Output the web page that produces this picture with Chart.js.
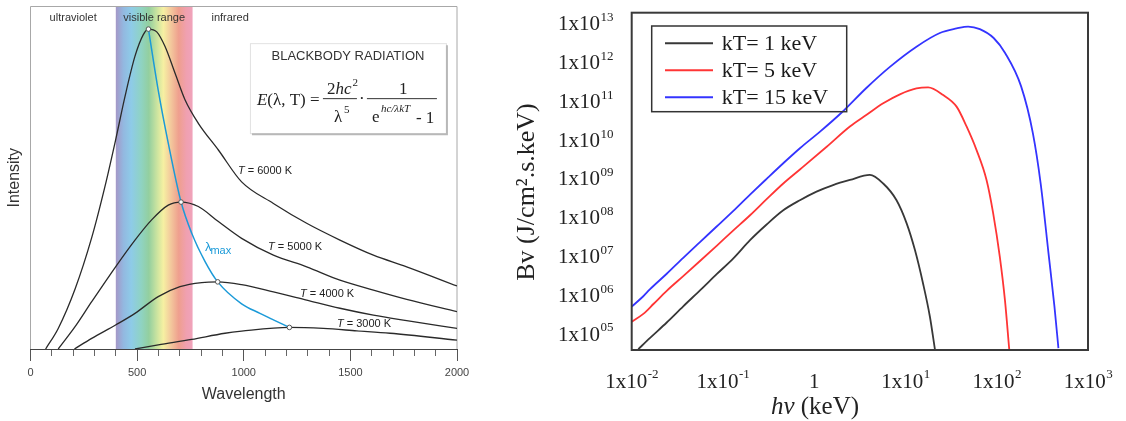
<!DOCTYPE html>
<html>
<head>
<meta charset="utf-8">
<script src="https://cdn.jsdelivr.net/npm/chart.js@4.4.0/dist/chart.umd.min.js"></script>
<style>
  body { margin: 0; background: #fff; width: 1126px; height: 421px; overflow: hidden; position: relative; }
  #planck { position: absolute; left: 0; top: 0; }
  #bv { position: absolute; left: 480px; top: 0; }
</style>
</head>
<body>
<canvas id="planck" width="480" height="421"></canvas>
<canvas id="bv" width="646" height="421"></canvas>
<script>
// ---- left panel : blackbody curves (wavelength, arbitrary intensity) ----
const temps = [6000, 5000, 4000, 3000];

const lam6000 = [71, 130, 209, 287, 349, 399, 443, 490, 529, 553, 592, 631, 678, 725, 787, 881, 990, 1139, 1295, 1451, 1608, 1764, 2000];
const int6000 = [0, 6.0, 17.5, 32.5, 47.4, 61.0, 73.7, 85.5, 91.8, 93.4, 92.6, 88.3, 80.5, 72.7, 65.9, 58.1, 48.8, 42.5, 36.7, 31.8, 27.4, 24.0, 18.4];

const lam5000 = [130, 209, 287, 399, 490, 568, 646, 706, 787, 881, 990, 1139, 1295, 1451, 1608, 1764, 2000];
const int5000 = [0, 6.5, 13.8, 24.0, 31.8, 37.7, 42.0, 42.9, 41.6, 37.2, 32.3, 27.4, 24.0, 20.1, 17.2, 14.5, 10.9];

const lam4000 = [206, 287, 399, 490, 599, 701, 803, 878, 990, 1139, 1295, 1451, 1608, 1764, 2000];
const int4000 = [0, 3.1, 7.0, 10.4, 15.3, 18.2, 19.4, 19.6, 18.8, 16.7, 14.3, 11.9, 9.9, 8.3, 6.0];

const lam3000 = [490, 599, 756, 912, 990, 1214, 1373, 1530, 1686, 2000];
const int3000 = [0, 1.2, 2.8, 4.6, 5.2, 6.3, 6.0, 5.3, 4.6, 2.6];

const lamMax = [553, 599, 646, 706, 756, 818, 878, 990, 1076, 1139, 1214];
const intMax = [93.4, 75.5, 60.1, 42.9, 33.8, 25.6, 19.6, 13.2, 10.4, 8.5, 6.3];

const peakLam = [553, 706, 878, 1214];
const peakInt = [93.4, 42.9, 19.6, 6.3];

const visibleBand = [400, 760];

// ---- right panel : Bv spectra, log-log ----
const kT = [1, 5, 15];

const e1 = [0.0118, 0.0158, 0.0242, 0.0367, 0.056, 0.0853, 0.130, 0.198, 0.301, 0.458, 0.697, 1.06, 1.61, 2.46, 4.07, 5.70, 7.98, 10.3, 12.7, 15.6, 18.5, 21.0];
const bv1 = [4.3e4, 8.3e4, 2.1e5, 5.5e5, 1.41e6, 3.7e6, 9.5e6, 2.8e7, 7.1e7, 1.65e8, 3.0e8, 5.0e8, 7.4e8, 1.0e9, 1.35e9, 8.1e8, 3.0e8, 7.6e7, 1.55e7, 2.1e6, 3.0e5, 4.3e4];

const e5 = [0.01, 0.0134, 0.0173, 0.0242, 0.0367, 0.056, 0.0853, 0.130, 0.198, 0.301, 0.458, 0.697, 1.37, 2.46, 3.75, 5.70, 8.69, 13.2, 17.7, 25.9, 36.3, 46.7, 60.1, 77.3, 91.4, 108, 123, 137];
const bv5 = [2.2e5, 3.5e5, 6.3e5, 1.38e6, 3.3e6, 8.1e6, 2.0e7, 5.0e7, 1.23e8, 3.2e8, 8.1e8, 1.86e9, 7.2e9, 2.4e10, 4.8e10, 9.5e10, 1.62e11, 2.3e11, 2.45e11, 1.55e11, 7.8e10, 2.4e10, 5.9e9, 1.0e9, 1.38e8, 1.05e7, 7.9e5, 4.3e4];

const e15 = [0.01, 0.0134, 0.0158, 0.0242, 0.0367, 0.056, 0.0853, 0.130, 0.198, 0.301, 0.458, 0.697, 1.15, 2.0, 3.75, 6.75, 13.2, 23.8, 36.3, 48.6, 65.3, 92.5, 124, 185, 249, 303, 369, 429, 474];
const bv15 = [5.4e5, 1.0e6, 1.5e6, 3.8e6, 9.8e6, 2.5e7, 6.3e7, 1.6e8, 4.2e8, 1.07e9, 2.7e9, 6.6e9, 1.74e10, 5.5e10, 2.4e11, 8.3e11, 2.75e12, 6.2e12, 8.1e12, 9.1e12, 7.8e12, 4.6e12, 1.86e12, 2.6e11, 1.6e10, 8.1e8, 1.3e7, 5.4e5, 4.6e4];

const bvTicks = [1e5, 1e6, 1e7, 1e8, 1e9, 1e10, 1e11, 1e12, 1e13];
const bvTickExp = ['05', '06', '07', '08', '09', '10', '11', '12', '13'];
const energyTicks = [0.01, 0.1, 1, 10, 100, 1000];
const energyTickBase = ['1x10', '1x10', '1', '1x10', '1x10', '1x10'];
const energyTickExp = ['-2', '-1', '', '1', '2', '3'];

const sans = "'Liberation Sans', Arial, sans-serif";
const serif = "'Liberation Serif', 'Times New Roman', serif";

const pts = (xs, ys) => xs.map((v, i) => ({x: v, y: ys[i]}));

const noPad = (s) => { s.paddingLeft = 0; s.paddingRight = 0; s.paddingTop = 0; s.paddingBottom = 0; };

// spectrum colours of the visible band
const bandStops = [
  [0, '#a497c7'], [0.1, '#93b8e0'], [0.2, '#8ecbe8'], [0.33, '#8fd3c3'], [0.43, '#93cf9f'],
  [0.55, '#d2e6a0'], [0.62, '#f6f0a2'], [0.72, '#f3c79c'], [0.82, '#ef9f8e'], [0.92, '#f0a0b0'], [1, '#f0a3bb']
];

const planckDecor = {
  id: 'planckDecor',
  beforeDraw(chart) {
    const {ctx, chartArea: a, scales: {x}} = chart;
    const x0 = x.getPixelForValue(visibleBand[0]);
    const x1 = x.getPixelForValue(visibleBand[1]);
    const g = ctx.createLinearGradient(x0, 0, x1, 0);
    bandStops.forEach(s => g.addColorStop(s[0], s[1]));
    ctx.save();
    ctx.fillStyle = g;
    ctx.fillRect(x0, a.top, x1 - x0, a.bottom - a.top);
    ctx.strokeStyle = '#a8a8a8';
    ctx.lineWidth = 1;
    ctx.beginPath();
    ctx.moveTo(a.left, a.bottom);
    ctx.lineTo(a.left, a.top);
    ctx.lineTo(a.right, a.top);
    ctx.lineTo(a.right, a.bottom);
    ctx.stroke();
    ctx.restore();
  },
  afterDatasetsDraw(chart) {
    const {ctx, scales: {x, y}} = chart;
    ctx.save();
    ctx.textBaseline = 'middle';
    ctx.fillStyle = '#333';

    // region names along the top
    ctx.font = '11px ' + sans;
    ctx.textAlign = 'center';
    ctx.fillText('ultraviolet', x.getPixelForValue(200), y.getPixelForValue(96.6));
    ctx.fillText('visible range', x.getPixelForValue(580), y.getPixelForValue(96.6));
    ctx.fillText('infrared', x.getPixelForValue(936), y.getPixelForValue(96.6));

    // temperature labels
    const at = [[973, 52.0], [1114, 29.8], [1264, 16.1], [1437, 7.3]];
    ctx.textAlign = 'left';
    temps.forEach((t, i) => {
      const px = x.getPixelForValue(at[i][0]), py = y.getPixelForValue(at[i][1]);
      ctx.font = 'italic 11px ' + sans;
      ctx.fillStyle = '#222';
      ctx.fillText('T', px, py);
      const w = ctx.measureText('T').width;
      ctx.font = '11px ' + sans;
      ctx.fillText(' = ' + t + ' K', px + w, py);
    });

    // lambda max label
    const lx = x.getPixelForValue(818), ly = y.getPixelForValue(29.5);
    ctx.fillStyle = '#1b9ad8';
    ctx.font = '13px ' + sans;
    ctx.fillText('λ', lx, ly - 1);
    const lw = ctx.measureText('λ').width;
    ctx.font = '11px ' + sans;
    ctx.fillText('max', lx + lw - 1, ly + 3);

    // formula box
    const bx = x.getPixelForValue(1029), by = y.getPixelForValue(89.3);
    const bw = 196, bh = 90;
    ctx.fillStyle = '#fff';
    ctx.fillRect(bx, by, bw, bh);
    ctx.strokeStyle = '#e2e2e2';
    ctx.lineWidth = 1;
    ctx.strokeRect(bx + 0.5, by + 0.5, bw, bh);
    ctx.strokeStyle = '#b8b8b8';
    ctx.lineWidth = 2;
    ctx.beginPath();
    ctx.moveTo(bx + bw + 1, by + 2);
    ctx.lineTo(bx + bw + 1, by + bh + 1);
    ctx.lineTo(bx + 2, by + bh + 1);
    ctx.stroke();

    ctx.fillStyle = '#333';
    ctx.font = '13px ' + sans;
    ctx.textAlign = 'center';
    ctx.fillText('BLACKBODY RADIATION', bx + 98, by + 13);

    ctx.fillStyle = '#222';
    ctx.textBaseline = 'alphabetic';
    ctx.textAlign = 'left';
    let cx = bx + 7;
    const base = by + 62;
    ctx.font = 'italic 17px ' + serif;
    ctx.fillText('E', cx, base);
    cx += ctx.measureText('E').width;
    ctx.font = '17px ' + serif;
    ctx.fillText('(λ, T) =', cx, base);

    ctx.strokeStyle = '#333';
    ctx.lineWidth = 1;
    ctx.beginPath();
    ctx.moveTo(bx + 73, by + 55.5); ctx.lineTo(bx + 107, by + 55.5);
    ctx.moveTo(bx + 117, by + 55.5); ctx.lineTo(bx + 187, by + 55.5);
    ctx.stroke();

    // 2hc^2
    ctx.font = '17px ' + serif;
    ctx.fillText('2', bx + 77, by + 51);
    let nx = bx + 77 + ctx.measureText('2').width;
    ctx.font = 'italic 17px ' + serif;
    ctx.fillText('hc', nx, by + 51);
    nx += ctx.measureText('hc').width;
    ctx.font = '11px ' + serif;
    ctx.fillText('2', nx + 1, by + 43);
    // lambda^5
    ctx.font = '17px ' + serif;
    ctx.fillText('λ', bx + 84, by + 79);
    ctx.font = '11px ' + serif;
    ctx.fillText('5', bx + 94, by + 70);
    // dot
    ctx.font = '17px ' + serif;
    ctx.fillText('·', bx + 109, by + 61);
    // 1 / (e^{hc/λkT} - 1)
    ctx.fillText('1', bx + 149, by + 51);
    ctx.fillText('e', bx + 122, by + 79);
    ctx.font = 'italic 11px ' + serif;
    ctx.fillText('hc/λkT', bx + 131, by + 69);
    ctx.font = '17px ' + serif;
    ctx.fillText('- 1', bx + 166, by + 80);
    ctx.restore();
  }
};

const blackLine = {borderColor: '#2a2a2a', borderWidth: 1.3, pointRadius: 0, cubicInterpolationMode: 'monotone', order: 2};

new Chart(document.getElementById('planck'), {
  type: 'line',
  data: {
    datasets: [
      {...blackLine, data: pts(lam6000, int6000)},
      {...blackLine, data: pts(lam5000, int5000)},
      {...blackLine, data: pts(lam4000, int4000)},
      {...blackLine, data: pts(lam3000, int3000)},
      {data: pts(lamMax, intMax), borderColor: '#1b9ad8', borderWidth: 1.5, pointRadius: 0, cubicInterpolationMode: 'monotone', order: 1},
      {data: pts(peakLam, peakInt), showLine: false, pointRadius: 2.3, pointBackgroundColor: '#fff', pointBorderColor: '#555', pointBorderWidth: 1, order: 0}
    ]
  },
  options: {
    responsive: false,
    animation: false,
    layout: {padding: {left: 0, top: 6.5, right: 23, bottom: 0}},
    plugins: {legend: {display: false}, tooltip: {enabled: false}},
    scales: {
      xMinor: {
        type: 'linear', position: 'bottom', min: 0, max: 2000,
        ticks: {display: false, stepSize: 100},
        grid: {drawOnChartArea: false, tickLength: 7, tickColor: '#666'},
        border: {display: false},
        afterFit: (s) => { s.height = 0; noPad(s); }
      },
      x: {
        type: 'linear', position: 'bottom', min: 0, max: 2000,
        ticks: {stepSize: 500, padding: 5.4, color: '#444', font: {family: sans, size: 11}, maxRotation: 0,
                callback: (v) => String(v)},
        grid: {drawOnChartArea: false, tickLength: 12, tickColor: '#555'},
        border: {color: '#444', width: 1},
        title: {display: true, text: 'Wavelength', color: '#333', font: {family: sans, size: 16}, padding: {top: 0, bottom: 16.4}},
        afterFit: (s) => { s.height = 72; noPad(s); }
      },
      y: {
        type: 'linear', min: 0, max: 100,
        ticks: {display: false},
        grid: {display: false},
        border: {display: false},
        title: {display: true, text: 'Intensity', color: '#333', font: {family: sans, size: 16}, padding: {top: 5.4, bottom: 0}},
        afterFit: (s) => { s.width = 30.5; noPad(s); }
      }
    }
  },
  plugins: [planckDecor]
});

// ---- right panel ----
const bvColors = ['#383838', '#ff3535', '#3434ff'];

// "1x10" followed by a smaller raised exponent
function drawPower(ctx, base, exp, x, y, align) {
  ctx.font = '21px ' + serif;
  const wb = ctx.measureText(base).width;
  ctx.font = '13px ' + serif;
  const we = exp ? ctx.measureText(exp).width : 0;
  const left = align === 'right' ? x - wb - we : x - (wb + we) / 2;
  ctx.font = '21px ' + serif;
  ctx.fillText(base, left, y);
  if (exp) {
    ctx.font = '13px ' + serif;
    ctx.fillText(exp, left + wb + 0.5, y - 7);
  }
}

const bvDecor = {
  id: 'bvDecor',
  afterDraw(chart) {
    const {ctx, chartArea: a, scales: {x, y}} = chart;
    ctx.save();
    ctx.strokeStyle = '#3a3a3a';
    ctx.lineWidth = 2;
    ctx.strokeRect(a.left, a.top, a.right - a.left, a.bottom - a.top);

    // tick labels
    ctx.fillStyle = '#222';
    ctx.textBaseline = 'middle';
    ctx.textAlign = 'left';
    bvTicks.forEach((v, i) => drawPower(ctx, '1x10', bvTickExp[i], a.left - 18.7, y.getPixelForValue(v), 'right'));
    energyTicks.forEach((v, i) => drawPower(ctx, energyTickBase[i], energyTickExp[i], x.getPixelForValue(v), 382, 'center'));

    // legend box
    const lx = a.left + 20, ly = a.top + 13.3;
    ctx.lineWidth = 1.5;
    ctx.strokeStyle = '#333';
    ctx.strokeRect(lx, ly, 195, 85.7);
    ctx.font = '22px ' + serif;
    chart.data.datasets.forEach((d, i) => {
      const ry = ly + 17.3 + i * 27;
      ctx.strokeStyle = d.borderColor;
      ctx.lineWidth = 2;
      ctx.beginPath();
      ctx.moveTo(lx + 13.3, ry);
      ctx.lineTo(lx + 61.3, ry);
      ctx.stroke();
      ctx.fillStyle = '#1a1a1a';
      ctx.fillText(d.label, lx + 70, ry + 1);
    });

    // x title, italic hv
    ctx.fillStyle = '#222';
    ctx.font = 'italic 25px ' + serif;
    const w1 = ctx.measureText('hv').width;
    ctx.font = '25px ' + serif;
    const w2 = ctx.measureText(' (keV)').width;
    const tx = 335 - (w1 + w2) / 2, ty = 407;
    ctx.font = 'italic 25px ' + serif;
    ctx.fillText('hv', tx, ty);
    ctx.font = '25px ' + serif;
    ctx.fillText(' (keV)', tx + w1, ty);

    // y title
    ctx.translate(47, 192);
    ctx.rotate(-Math.PI / 2);
    ctx.textAlign = 'center';
    ctx.font = '26px ' + serif;
    ctx.fillText('Bv (J/cm².s.keV)', 0, 0);
    ctx.restore();
  }
};

const bvSeries = [[e1, bv1], [e5, bv5], [e15, bv15]];

new Chart(document.getElementById('bv'), {
  type: 'line',
  data: {
    datasets: bvSeries.map((s, i) => ({
      label: 'kT= ' + kT[i] + ' keV',
      data: pts(s[0], s[1]),
      borderColor: bvColors[i],
      borderWidth: 1.8,
      pointRadius: 0,
      cubicInterpolationMode: 'monotone'
    }))
  },
  options: {
    responsive: false,
    animation: false,
    layout: {padding: {left: 0, top: 12.7, right: 38, bottom: 0}},
    plugins: {legend: {display: false}, tooltip: {enabled: false}},
    scales: {
      x: {
        type: 'logarithmic', min: 0.01, max: 1000,
        afterBuildTicks: (s) => { s.ticks = energyTicks.map(v => ({value: v})); },
        ticks: {display: false},
        grid: {display: false},
        border: {display: false},
        afterFit: (s) => { s.height = 71; noPad(s); }
      },
      y: {
        type: 'logarithmic', min: 41000, max: 2.07e13,
        afterBuildTicks: (s) => { s.ticks = bvTicks.map(v => ({value: v})); },
        ticks: {display: false},
        grid: {display: false},
        border: {display: false},
        afterFit: (s) => { s.width = 151.7; noPad(s); }
      }
    }
  },
  plugins: [bvDecor]
});
</script>
</body>
</html>
